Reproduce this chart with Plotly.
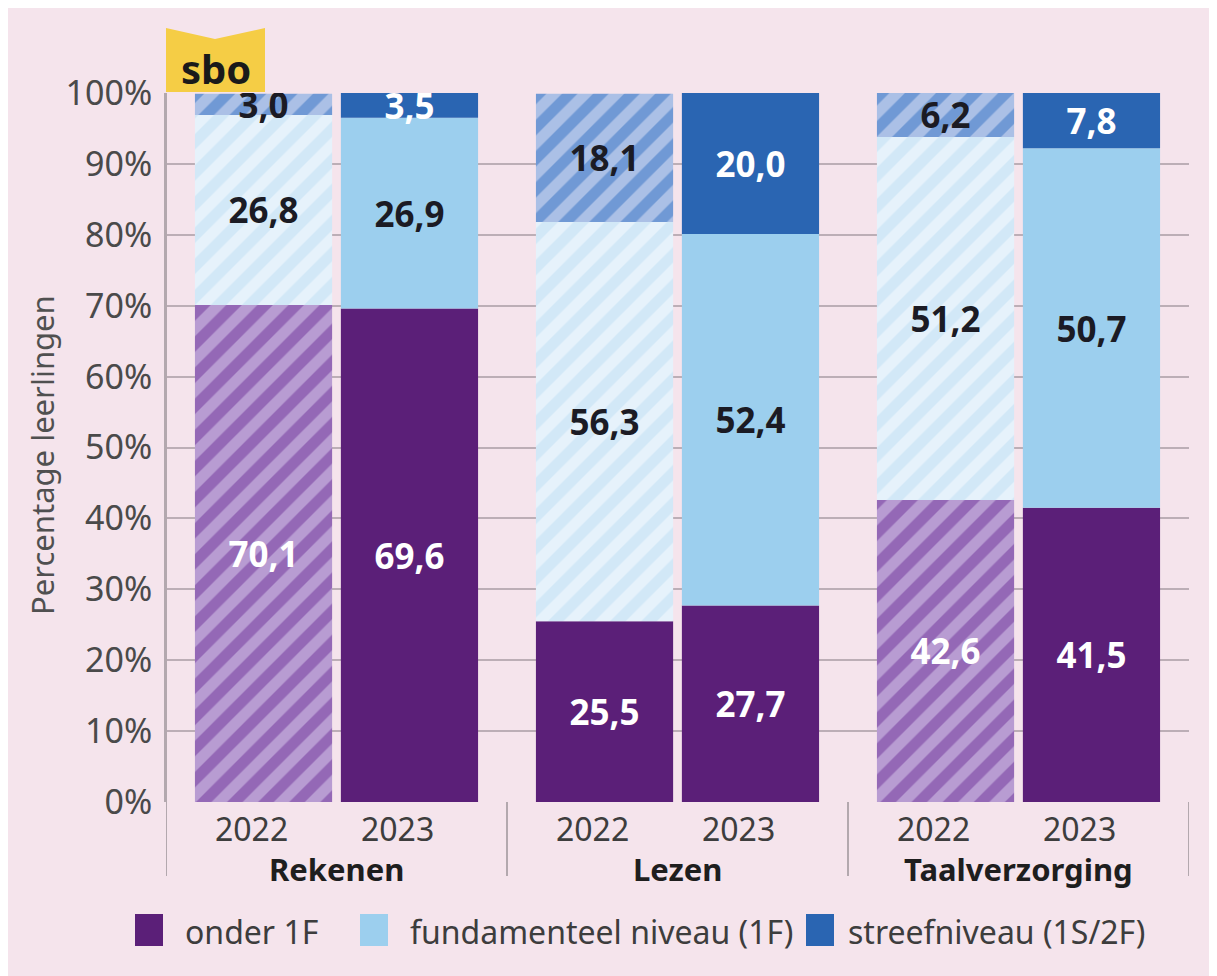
import plotly.graph_objects as go

# ---------------- data ----------------
subjects = ["Rekenen", "Lezen", "Taalverzorging"]
years = ["2022", "2023"]
series = ["onder 1F", "fundamenteel niveau (1F)", "streefniveau (1S/2F)"]

onder_2022 = [70.1, 25.5, 42.6]
onder_2023 = [69.6, 27.7, 41.5]
fund_2022 = [26.8, 56.3, 51.2]
fund_2023 = [26.9, 52.4, 50.7]
streef_2022 = [3.0, 18.1, 6.2]
streef_2023 = [3.5, 20.0, 7.8]

# which 2022 segments are drawn hatched (per subject)
hatch_onder_2022 = [True, False, True]
hatch_fund_2022 = [True, True, True]
hatch_streef_2022 = [True, True, True]

y_tickvals = [0, 10, 20, 30, 40, 50, 60, 70, 80, 90, 100]
y_ticktext = ["0%", "10%", "20%", "30%", "40%", "50%", "60%", "70%", "80%", "90%", "100%"]
y_title = "Percentage leerlingen"
badge_text = "sbo"

# ---------------- styles ----------------
OFF = 8  # page body margin
W, H = 1217 - OFF, 976 - OFF
L, R, T, B = 166 - OFF, 1189 - OFF, 93 - OFF, 802 - OFF  # plot area in figure pixels
FONT = "Noto Sans"
BG = "#f5e4ec"
GRID = "#bcaeb6"

solid_col = {series[0]: "#5b1f78", series[1]: "#9ccfee", series[2]: "#2a65b2"}
hatch_bg = {series[0]: "#b89cd2", series[1]: "#d2e8f7", series[2]: "#abc0e6"}
hatch_fg = {series[0]: "#9468b6", series[1]: "#e6f2fb", series[2]: "#7099d5"}
label_col_solid = {series[0]: "white", series[1]: "#1b1b24", series[2]: "white"}
label_col_hatch = {series[0]: "white", series[1]: "#1b1b24", series[2]: "#1b1b24"}


def px2x(x):
    """reference-image pixel x -> paper coordinate"""
    return (x - OFF - L) / (R - L)


def px2y(y):
    """reference-image pixel y -> paper coordinate"""
    return (B - (y - OFF)) / (B - T)


def fmt(v):
    return f"{v:.1f}".replace(".", ",")


data = {
    "2022": [onder_2022, fund_2022, streef_2022],
    "2023": [onder_2023, fund_2023, streef_2023],
}
hatch = {
    "2022": [hatch_onder_2022, hatch_fund_2022, hatch_streef_2022],
    "2023": [[False] * 3, [False] * 3, [False] * 3],
}

fig = go.Figure()
for yr in years:
    base = [0.0] * len(subjects)
    for k, s in enumerate(series):
        vals = data[yr][k]
        hf = hatch[yr][k]
        for hatched in (True, False):
            yv = [v if h == hatched else None for v, h in zip(vals, hf)]
            if all(v is None for v in yv):
                continue
            if hatched:
                marker = dict(color=hatch_bg[s], line=dict(width=0),
                              pattern=dict(shape="/", fgcolor=hatch_fg[s], fgopacity=1,
                                           size=22, solidity=0.5, fillmode="overlay"))
                tcol = label_col_hatch[s]
            else:
                marker = dict(color=solid_col[s], line=dict(width=0))
                tcol = label_col_solid[s]
            fig.add_trace(go.Bar(
                x=subjects, y=yv, base=list(base), offsetgroup=yr, name=s,
                showlegend=False, marker=marker,
                text=[fmt(v) if v is not None else "" for v in yv],
                textposition="inside", insidetextanchor="middle", textangle=0,
                constraintext="none",
                textfont=dict(family=FONT, size=35, color=tcol, weight="bold"),
                hoverinfo="skip",
            ))
        base = [b + v for b, v in zip(base, vals)]

bargap = 0.144
bargroupgap = 0.06
slot = (1 - bargap) / len(years)
year_offsets = [(-0.5 * (1 - bargap) + slot * (j + 0.5)) for j in range(len(years))]

shapes = []
annotations = []

# group dividers extending below axis
for i in range(len(subjects) + 1):
    shapes.append(dict(type="line", xref="x", yref="paper", x0=i - 0.5, x1=i - 0.5,
                       y0=1 if i == 0 else 0, y1=px2y(876), line=dict(color="#b3a8ae", width=2)))

# year and subject labels
for i, subj in enumerate(subjects):
    for j, yr in enumerate(years):
        annotations.append(dict(x=i + year_offsets[j], y=px2y(828), xref="x", yref="paper",
                                text=yr, showarrow=False, xanchor="center", yanchor="middle",
                                xshift=-12,
                                font=dict(family=FONT, size=32, color="#3d3d3d")))
    annotations.append(dict(x=i, y=px2y(869), xref="x", yref="paper",
                            text=f"<b>{subj}</b>", showarrow=False, xanchor="center", yanchor="middle",
                            font=dict(family=FONT, size=31, color="#1e1e1e")))

# y-axis title
annotations.append(dict(x=px2x(42), y=px2y(455), xref="paper", yref="paper", text=y_title,
                        textangle=-90, showarrow=False, xanchor="center", yanchor="middle",
                        font=dict(family=FONT, size=31, color="#505050")))

# badge "sbo"
bx0, bx1, bxm, by_top, by_notch, by_bot = 166, 265, 215, 28, 39, 92
path = (f"M {px2x(bx0)},{px2y(by_bot)} L {px2x(bx0)},{px2y(by_top)} "
        f"L {px2x(bxm)},{px2y(by_notch)} L {px2x(bx1)},{px2y(by_top)} "
        f"L {px2x(bx1)},{px2y(by_bot)} Z")
shapes.append(dict(type="path", xref="paper", yref="paper", path=path,
                   fillcolor="#f5cd45", line=dict(width=0), layer="above"))
annotations.append(dict(x=px2x(216), y=px2y(68), xref="paper", yref="paper",
                        text=f"<b>{badge_text}</b>", showarrow=False, xanchor="center", yanchor="middle",
                        font=dict(family=FONT, size=40, color="#1a1a1a")))

# manual legend
leg_sq_x = [135, 360, 806]
leg_txt_x = [183, 408, 846]
for k, s in enumerate(series):
    shapes.append(dict(type="rect", xref="paper", yref="paper",
                       x0=px2x(leg_sq_x[k]), x1=px2x(leg_sq_x[k] + 28),
                       y0=px2y(946), y1=px2y(914), fillcolor=solid_col[s], line=dict(width=0)))
    annotations.append(dict(x=px2x(leg_txt_x[k]), y=px2y(931), xref="paper", yref="paper",
                            text=s, showarrow=False, xanchor="left", yanchor="middle",
                            font=dict(family=FONT, size=32, color="#3d3d3d")))

fig.update_layout(
    width=W, height=H, autosize=False,
    margin=dict(l=L, r=W - R, t=T, b=H - B, pad=0),
    paper_bgcolor=BG, plot_bgcolor=BG,
    barmode="group", bargap=bargap, bargroupgap=bargroupgap,
    showlegend=False,
    shapes=shapes, annotations=annotations,
    font=dict(family=FONT),
)
fig.update_xaxes(range=[-0.5, len(subjects) - 0.5], showticklabels=False, showgrid=False,
                 zeroline=False, showline=False, ticks="")
fig.update_yaxes(range=[0, 100], tickvals=y_tickvals, ticktext=y_ticktext,
                 showgrid=True, gridcolor=GRID, gridwidth=2, zeroline=False,
                 showline=True, linecolor="#b3a8ae", linewidth=2, ticks="",
                 ticklabelstandoff=5,
                 tickfont=dict(family=FONT, size=34, color="#4a4a4a"))

fig.write_html("out.html")
